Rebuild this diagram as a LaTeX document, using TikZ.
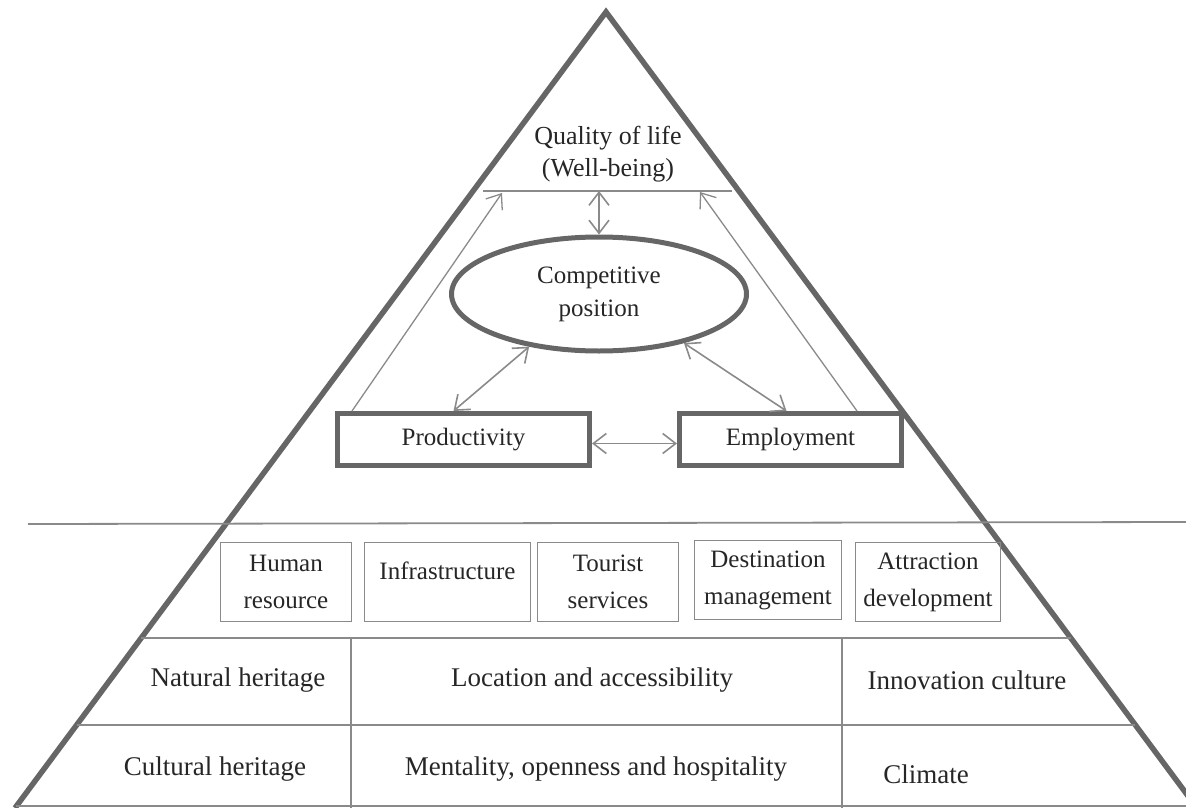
\documentclass[tikz,border=0pt]{standalone}
\usepackage{fontspec}
\setmainfont{Liberation Serif}
\usetikzlibrary{arrows.meta,calc,shapes.geometric}
\definecolor{frm}{HTML}{666666}
\definecolor{thn}{HTML}{8A8A8A}
\definecolor{txt}{HTML}{262626}
\begin{document}
\begin{tikzpicture}[x=1pt,y=-1pt,>={Straight Barb[length=13pt,width=20pt]},
  bar/.style={draw=frm,line width=5.5pt},
  gridline/.style={draw=thn,line width=1.8pt},
  dbl/.style={draw=thn,line width=1.6pt,<->},
  sgl/.style={draw=thn,line width=1.3pt,->},
  bigbox/.style={draw=frm,line width=5pt,minimum height=52pt,inner sep=0pt,text=txt,font=\fontsize{25}{33}\selectfont},
  cell/.style={draw=thn,line width=1.6pt,minimum height=79pt,inner sep=0pt,align=center,text=txt,font=\fontsize{25}{37}\selectfont},
  row/.style={text=txt,inner sep=0pt,font=\fontsize{27}{33}\selectfont}]
\useasboundingbox (0,0) rectangle (1186,808);\clip (0,0) rectangle (1186,808);
% pyramid
\coordinate (apx) at (606,12);\coordinate (bl) at (15,808);\coordinate (br) at (1197,808);
\draw[bar,line join=miter] (bl)--(apx)--(br);
\coordinate (sepl) at (28,524);\coordinate (sepr) at (1186,522);\draw[gridline] (sepl)--(sepr);
% top
\node[text=txt,align=center,font=\fontsize{26}{32}\selectfont] (qol) at (608,154) {Quality of life\\(Well-being)};
\coordinate (ql) at (483,191);\coordinate (qr) at (732,191);\coordinate (qmid) at (599,191);\draw[gridline] (ql)--(qr);
\node[ellipse,draw=frm,line width=5pt,minimum width=295pt,minimum height=114pt,inner sep=0pt,align=center,text=txt,font=\fontsize{25}{33}\selectfont] (cmp) at (599,294) {Competitive\\position};
\node[bigbox,minimum width=252pt] (prd) at (463.5,439.5) {Productivity};
\node[bigbox,minimum width=222pt] (emp) at (790.5,439.5) {Employment};
\draw[dbl] (qmid)--(cmp.north);
\draw[dbl] (cmp.217)--([xshift=-10pt]prd.north);\draw[dbl] (cmp.330)--([xshift=-4pt]emp.north);
\draw[dbl] ([yshift=-4pt]prd.east)--([yshift=-4pt]emp.west);
\draw[sgl] ([xshift=17pt]prd.north west)--([xshift=19pt,yshift=-2pt]ql);
\draw[sgl] ([xshift=-47pt]emp.north east)--([xshift=-32pt,yshift=-1pt]qr);
% factors
\node[cell,minimum width=131pt] (hum) at (286,582) {Human\\resource};
\node[cell,minimum width=166pt] (inf) at (447.5,582) {Infrastructure\\[-14pt]\mbox{}};
\node[cell,minimum width=141pt] (tou) at (608,582) {Tourist\\services};
\node[cell,minimum width=147pt] (dst) at (768,580) {Destination\\management};
\node[cell,minimum width=145pt] (att) at (928,582) {Attraction\\development};
% resources
\draw[gridline] ($(apx)!0.7864!(bl)$)--($(apx)!0.7864!(br)$);
\draw[gridline] ($(apx)!0.8957!(bl)$)--($(apx)!0.8957!(br)$);
\draw[gridline] ($(apx)!0.9975!(bl)$)--($(apx)!0.9975!(br)$);
\draw[gridline] (351,638)--(351,808);\draw[gridline] (842,638)--(842,808);
\node[row] (nat) at (238,680) {Natural heritage};
\node[row] (loc) at (592,680) {Location and accessibility};
\node[row] (inn) at (967,680) {Innovation culture};
\node[row] (cul) at (215,769) {Cultural heritage};
\node[row] (men) at (596,769) {Mentality, openness and hospitality};
\node[row] (cli) at (926,774) {Climate};
\end{tikzpicture}
\end{document}
